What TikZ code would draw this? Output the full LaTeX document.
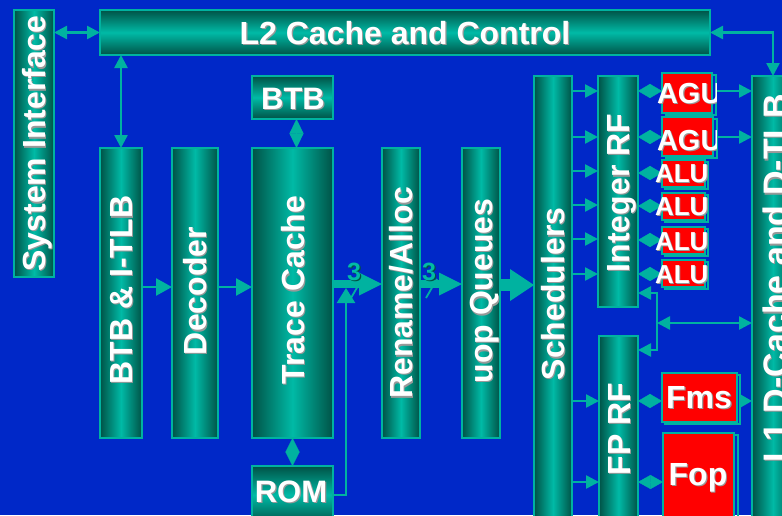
\documentclass[tikz,border=0pt]{standalone}
\usepackage{fontspec}
\setmainfont{Liberation Sans}
\usetikzlibrary{arrows.meta,calc}
\definecolor{bgblue}{RGB}{0,40,200}
\definecolor{tline}{RGB}{0,178,160}
\definecolor{tlight}{RGB}{0,186,166}
\definecolor{tdark}{RGB}{0,82,70}
\definecolor{ured}{RGB}{255,0,0}
\tikzset{
  every node/.append style={inner sep=0pt,outer sep=0pt},
  vbox/.style={rectangle,draw=tline,line width=2pt,left color=tdark,right color=tdark,middle color=tlight},
  hbox/.style={rectangle,draw=tline,line width=2pt,top color=tdark,bottom color=tdark,middle color=tlight},
  rbox/.style={rectangle,draw=tline,line width=2pt,fill=ured},
  sbox/.style={rectangle,draw=tline,line width=1.6pt},
  con/.style={draw=tline,line width=2.5pt},
  arr/.style={con,-{Triangle[length=13pt,width=13pt]}},
  arrB/.style={con,-{Triangle[length=16pt,width=17pt]}},
  darr/.style={con,{Triangle[length=13pt,width=13pt]}-{Triangle[length=13pt,width=13pt]}},
  dia/.style={draw=tline,fill=tline,line width=0.3pt,{Triangle[length=#1,width=14pt]}-{Triangle[length=#1,width=14pt]}},
  thk/.style={draw=tline,line width=8pt,-{Triangle[length=23pt,width=23pt,line width=0pt]}},
  thkB/.style={draw=tline,line width=12pt,-{Triangle[length=24pt,width=32pt,line width=0pt]}},
  busno/.style={font=\bfseries\fontsize{25}{25}\selectfont},
}
\newcommand\tlabel[7]{%
  \node[text=black!40,font=\bfseries\fontsize{#5}{#5}\selectfont,rotate=#4,anchor=#6] (#1s) at ({#2+1.2},{#3+1.2}) {#7};
  \node[text=white,font=\bfseries\fontsize{#5}{#5}\selectfont,rotate=#4,anchor=#6] (#1) at (#2,#3) {#7};}
\begin{document}
\begin{tikzpicture}[x=1pt,y=-1pt]
\useasboundingbox (0,0) rectangle (782,515);
\fill[bgblue] (0,0) rectangle (782,515);
\clip (0,0) rectangle (782,515);

% shadow frames of execution units
\node[sbox,minimum width=50pt,minimum height=40pt] (agus1) at (691,95) {};
\node[sbox,minimum width=51pt,minimum height=39pt] (agus2) at (691.5,138.5) {};
\foreach \n/\y in {1/173.5,2/206.5,3/240.5,4/273.5}
  \node[sbox,minimum width=43pt,minimum height=27pt] (alus\n) at (686.5,{\y+2}) {};
\node[sbox,minimum width=75pt,minimum height=49pt] (fmss) at (702.5,399.5) {};
\node[sbox,minimum width=71pt,minimum height=97pt] (fops) at (702.5,483.5) {};

% blocks
\node[vbox,minimum width=40pt,minimum height=267pt] (si) at (34,143.5) {};
\node[hbox,minimum width=610pt,minimum height=45pt] (l2) at (405,32.5) {};
\node[hbox,minimum width=81pt,minimum height=43pt] (btb) at (292.5,97.5) {};
\node[vbox,minimum width=42pt,minimum height=290pt] (bi) at (121,293) {};
\node[vbox,minimum width=46pt,minimum height=290pt] (dec) at (195,293) {};
\node[vbox,minimum width=81pt,minimum height=290pt] (tc) at (292.5,293) {};
\node[hbox,minimum width=81pt,minimum height=58pt] (rom) at (292.5,495) {};
\node[vbox,minimum width=38pt,minimum height=290pt] (rn) at (401,293) {};
\node[vbox,minimum width=38pt,minimum height=290pt] (uq) at (481,293) {};
\node[vbox,minimum width=38pt,minimum height=454pt] (sch) at (553,303) {};
\node[vbox,minimum width=40pt,minimum height=231pt] (irf) at (618,191.5) {};
\node[vbox,minimum width=39pt,minimum height=194pt] (fprf) at (618.5,433) {};
\node[vbox,minimum width=42pt,minimum height=454pt] (l1) at (773,303) {};
\node[rbox,minimum width=50pt,minimum height=40pt] (agu1) at (687,93) {};
\node[rbox,minimum width=51pt,minimum height=39pt] (agu2) at (687.5,136.5) {};
\foreach \n/\y in {1/173.5,2/206.5,3/240.5,4/273.5}
  \node[rbox,minimum width=43pt,minimum height=27pt] (alu\n) at (683.5,\y) {};
\node[rbox,minimum width=75pt,minimum height=49pt] (fms) at (699.5,397.5) {};
\node[rbox,minimum width=71pt,minimum height=97pt] (fop) at (698.5,481.5) {};

% connectors
\draw[darr] (si.east|-l2.west) -- (l2.west);
\draw[darr] (l2.south-|bi.north) -- (bi.north);
\draw[darr] (l2.east) -| (l1.north);
\draw[arrB] (bi.east|-0,287) -- (dec.west|-0,287);
\draw[arrB] (dec.east|-0,287) -- (tc.west|-0,287);
\draw[dia=14.5pt] ([xshift=4pt]btb.south) -- ([xshift=4pt]tc.north);
\draw[dia=14pt] (tc.south) -- (rom.north);
\draw[thk] (tc.east|-0,284) -- (rn.west|-0,284);
\draw[thk] (rn.east|-0,284) -- (uq.west|-0,284);
\draw[thkB] (uq.east|-0,285) -- (sch.west|-0,285);
\coordinate (rj) at (346,288);
\draw[con,-{Triangle[length=15pt,width=18pt]}] (rom.east) -| (rj);
\draw[tline,line width=1.8pt] (351,298) -- (362,279);
\draw[tline,line width=1.8pt] (426,298) -- (437,279);
\node[busno,text=tdark] (b3as) at (355.3,273.3) {3};
\node[busno,text=tlight] (b3a) at (354,272) {3};
\node[busno,text=tdark] (b3bs) at (430.3,273.3) {3};
\node[busno,text=tlight] (b3b) at (429,272) {3};
\foreach \y in {91,137,171,205,239,274}
  \draw[arr] (sch.east|-0,\y) -- (irf.west|-0,\y);
\foreach \y in {401,482}
  \draw[arr] (sch.east|-0,\y) -- (fprf.west|-0,\y);
\draw[dia=12pt] (irf.east|-0,91) -- (agu1.west|-0,91);
\draw[dia=12pt] (irf.east|-0,137) -- (agu2.west|-0,137);
\foreach \n/\y in {1/173,2/206,3/240,4/274}
  \draw[dia=12pt] (irf.east|-0,\y) -- (alu\n.west|-0,\y);
\draw[dia=12pt] (fprf.east|-0,401) -- (fms.west|-0,401);
\draw[dia=12.5pt] (fprf.east|-0,482) -- (fop.west|-0,482);
\draw[arr] (agus1.east|-0,91) -- (l1.west|-0,91);
\draw[arr] (agus2.east|-0,137) -- (l1.west|-0,137);
\draw[con,-{Triangle[length=12pt,width=13pt]}] (fmss.east|-0,401) -- (l1.west|-0,401);
\coordinate (bt) at (657,293);
\coordinate (bb) at (657,350);
\coordinate (bm) at (657,323);
\draw[darr] (irf.east|-bt) -- (bt) -- (bb) -- (fprf.east|-bb);
\draw[darr] (bm) -- (l1.west|-bm);

% labels
\tlabel{tsi}{45}{143.5}{90}{32}{base}{System Interface}
\tlabel{tl2}{405}{44.5}{0}{32}{base}{L2 Cache and Control}
\tlabel{tbtb}{293}{109}{0}{31}{base}{BTB}
\tlabel{tbi}{132}{290}{90}{32}{base}{BTB \& I-TLB}
\tlabel{tdec}{206}{291}{90}{32}{base}{Decoder}
\tlabel{ttc}{304}{290}{90}{32}{base}{Trace Cache}
\tlabel{trom}{291}{502}{0}{31}{base}{ROM}
\tlabel{trn}{412}{293}{90}{32}{base}{Rename/Alloc}
\tlabel{tuq}{492}{291}{90}{32}{base}{uop Queues}
\tlabel{tsch}{564}{294}{90}{32}{base}{Schedulers}
\tlabel{tirf}{629}{193}{90}{32}{base}{Integer RF}
\tlabel{tfp}{630}{429}{90}{32}{base}{FP RF}
\tlabel{tl1}{787}{278}{90}{34}{base}{L1 D-Cache and D-TLB}
\begin{scope}
  \clip (640,60) rectangle (716,165);
  \tlabel{tagu1}{657}{103}{0}{29}{base west}{AGU}
  \tlabel{tagu2}{657}{150}{0}{29}{base west}{AGU}
\end{scope}
\begin{scope}
  \clip (640,155) rectangle (707,300);
  \tlabel{talu1}{655}{182}{0}{26}{base west}{ALU}
  \tlabel{talu2}{655}{215}{0}{26}{base west}{ALU}
  \tlabel{talu3}{655}{250}{0}{26}{base west}{ALU}
  \tlabel{talu4}{655}{283}{0}{26}{base west}{ALU}
\end{scope}
\tlabel{tfms}{699}{408}{0}{32}{base}{Fms}
\tlabel{tfop}{698}{485}{0}{32}{base}{Fop}
\end{tikzpicture}
\end{document}
